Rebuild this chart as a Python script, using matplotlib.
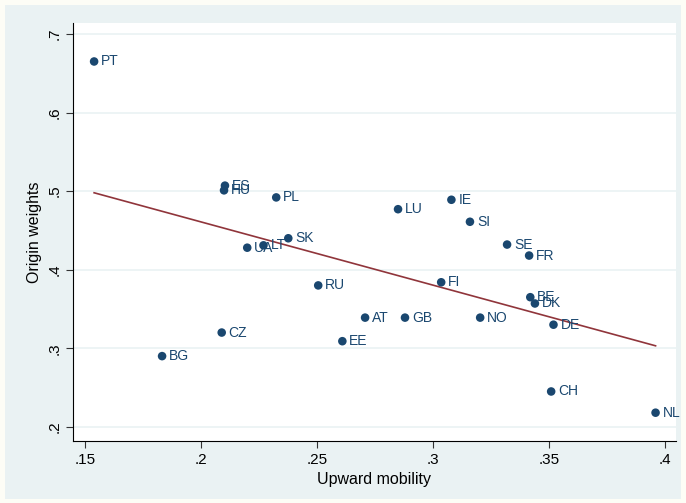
import numpy as np
import matplotlib
matplotlib.use('Agg')
import matplotlib.pyplot as plt
from matplotlib.patches import Rectangle

countries = ['PT', 'ES', 'HU', 'PL', 'LU', 'IE', 'SI', 'SE', 'FR', 'SK', 'UA', 'LT',
             'RU', 'FI', 'BE', 'DK', 'DE', 'NO', 'AT', 'GB', 'EE', 'CZ', 'BG', 'CH', 'NL']
upward = [0.154, 0.2104, 0.210, 0.2325, 0.285, 0.308, 0.316, 0.332, 0.3415, 0.2377, 0.220, 0.227,
          0.2506, 0.3036, 0.342, 0.344, 0.352, 0.3204, 0.2708, 0.288, 0.261, 0.209, 0.1833, 0.351, 0.396]
origin_w = [0.665, 0.507, 0.501, 0.492, 0.477, 0.489, 0.461, 0.432, 0.418, 0.440, 0.428, 0.431,
            0.380, 0.384, 0.365, 0.357, 0.330, 0.339, 0.339, 0.339, 0.309, 0.320, 0.290, 0.245, 0.218]
xticks = [0.15, 0.2, 0.25, 0.3, 0.35, 0.4]
xtick_labels = ['.15', '.2', '.25', '.3', '.35', '.4']
yticks = [0.2, 0.3, 0.4, 0.5, 0.6, 0.7]
ytick_labels = ['.2', '.3', '.4', '.5', '.6', '.7']

navy = '#1a476f'
red = '#90353b'
bg = '#eaf2f3'

plt.rcParams['font.family'] = ['Liberation Sans', 'DejaVu Sans']

fig = plt.figure(figsize=(6.86, 5.03), dpi=100, facecolor='#fdfdf6')
fig.patches.append(Rectangle((5 / 686, 4 / 503), 676 / 686, 494 / 503,
                             transform=fig.transFigure, facecolor=bg, edgecolor='none', zorder=-5))
ax = fig.add_axes([0.1064, 0.1233, 0.8790, 0.8310])
ax.set_facecolor('white')

x = np.array(upward)
y = np.array(origin_w)
b, a = np.polyfit(x, y, 1)
xs = np.array([x.min(), x.max()])
ax.plot(xs, a + b * xs, color=red, lw=1.2, zorder=2)

ax.scatter(x, y, s=38, color=navy, zorder=3, edgecolors='none')
for c, xi, yi in zip(countries, x, y):
    ax.annotate(c, (xi, yi), xytext=(5, 0), textcoords='offset points',
                va='center', ha='left', fontsize=10, color=navy, zorder=4)

ax.set_xlim(0.1449, 0.4048)
ax.set_ylim(0.182, 0.714)
ax.set_xticks(xticks)
ax.set_xticklabels(xtick_labels)
ax.set_yticks(yticks)
ax.set_yticklabels(ytick_labels, rotation=90, va='center')
ax.tick_params(labelsize=11, length=5, width=0.8, color='#333333')
ax.grid(axis='y', color=bg, lw=1.2)
ax.set_axisbelow(True)
for s in ['top', 'right']:
    ax.spines[s].set_visible(False)
for s in ['left', 'bottom']:
    ax.spines[s].set_linewidth(0.8)
ax.set_xlabel('Upward mobility', fontsize=11.5)
ax.set_ylabel('Origin weights', fontsize=11.5)

fig.savefig('out.png', dpi=100, facecolor=fig.get_facecolor())
